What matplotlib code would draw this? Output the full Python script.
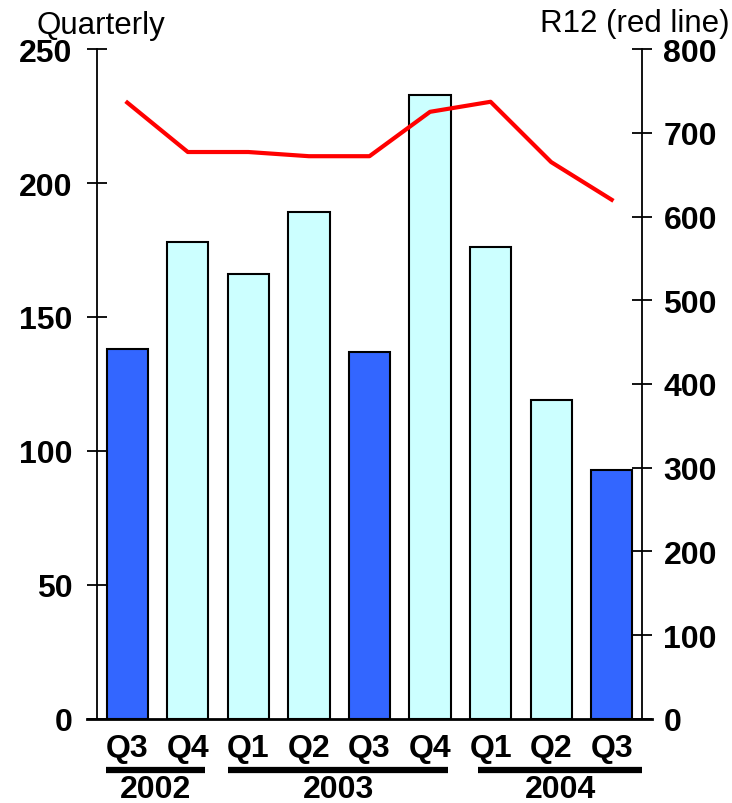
import matplotlib.pyplot as plt
import matplotlib.transforms as mtransforms

# ======================================================
# DATA
# ======================================================

quarters = ["Q3", "Q4", "Q1", "Q2", "Q3", "Q4", "Q1", "Q2", "Q3"]
quarterly = [138, 178, 166, 189, 137, 233, 176, 119, 93]
r12 = [736, 677, 677, 672, 672, 725, 737, 665, 620]
highlight = [True, False, False, False, True, False, False, False, True]
years = ["2002", "2003", "2004"]
year_spans = [(-0.35, 1.29), (1.67, 5.3), (5.8, 8.5)]

BLUE = "#3366FF"
CYAN = "#CCFFFF"

plt.rcParams["font.family"] = ["Liberation Sans", "DejaVu Sans"]

# ======================================================
# FIGURE
# ======================================================

fig = plt.figure(figsize=(7.32, 8.04), dpi=100)
ax = fig.add_axes([0.1325, 0.1045, 0.7445, 0.8333])

x = list(range(len(quarterly)))
colors = [BLUE if h else CYAN for h in highlight]
ax.bar(x, quarterly, width=0.68, color=colors, edgecolor="black", linewidth=1.5, zorder=2)

ax.set_xlim(-0.5, len(quarterly) - 0.5)
ax.set_ylim(0, 250)
ax.set_yticks([0, 50, 100, 150, 200, 250])

ax2 = ax.twinx()
ax2.plot(x, r12, color="red", linewidth=3, zorder=3)
ax2.set_ylim(0, 800)
ax2.set_yticks([0, 100, 200, 300, 400, 500, 600, 700, 800])

for a in (ax, ax2):
    a.spines["top"].set_visible(False)
    a.spines["bottom"].set_visible(False)
    a.spines["left"].set_linewidth(1.3)
    a.spines["right"].set_linewidth(1.3)
    a.tick_params(axis="y", direction="inout", length=15, width=1.3, labelsize=23, pad=10)
    for t in a.get_yticklabels():
        t.set_fontweight("bold")

ax2.spines["left"].set_visible(False)
ax.spines["right"].set_visible(False)
ax2.tick_params(axis="y", pad=8)

# x labels
ax.set_xticks(x)
ax.set_xticklabels(quarters, fontsize=23, fontweight="bold")
ax.tick_params(axis="x", length=0, pad=10)

# baseline extending past the spines
ax.plot([-0.018, 1.018], [0, 0], transform=ax.transAxes, color="black",
        linewidth=2, clip_on=False, zorder=4)

# year underlines and labels
trans = mtransforms.blended_transform_factory(ax.transData, ax.transAxes)
for year, (x0, x1) in zip(years, year_spans):
    ax.plot([x0, x1], [-0.076, -0.076], transform=trans, color="black",
            linewidth=4.5, clip_on=False, solid_capstyle="butt")
    ax.text((x0 + x1) / 2, -0.104, year, transform=trans, ha="center", va="center",
            fontsize=23, fontweight="bold")

# axis titles
fig.text(0.05, 0.968, "Quarterly", fontsize=22.5, ha="left", va="center")
fig.text(0.997, 0.970, "R12 (red line)", fontsize=22.5, ha="right", va="center")

fig.savefig("out.png", dpi=100)
